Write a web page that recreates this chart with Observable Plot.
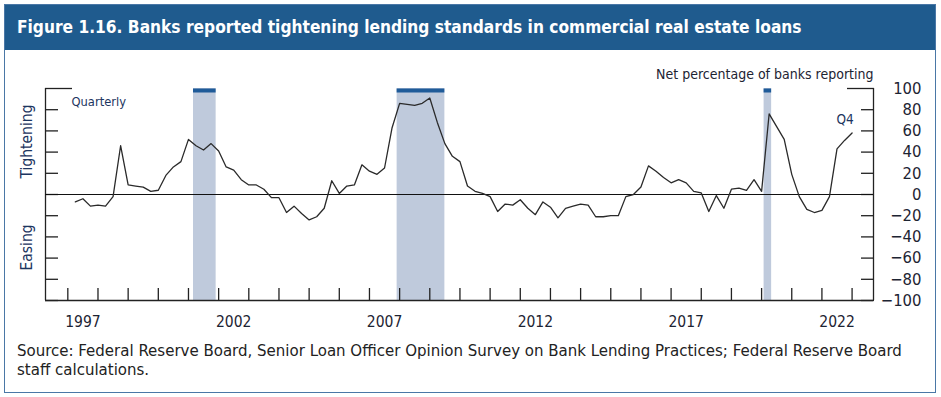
<!DOCTYPE html>
<html><head><meta charset="utf-8">
<script src="https://cdn.jsdelivr.net/npm/d3@7"></script>
<script src="https://cdn.jsdelivr.net/npm/@observablehq/plot@0.6"></script>
<style>
body{margin:0;background:#fff;width:941px;height:397px;position:relative;overflow:hidden;font-family:"Liberation Sans Narrow","DejaVu Sans Condensed","Arial Narrow",sans-serif;}
#frame{position:absolute;left:4px;top:4px;width:932px;height:389px;border:1px solid #4a77a6;box-sizing:border-box;}
#title{position:absolute;left:5px;top:5px;width:930px;height:45px;background:#1f5b8e;color:#fff;font-weight:bold;font-size:17.2px;line-height:45px;padding-left:12px;box-sizing:border-box;white-space:nowrap;}
#chart{position:absolute;left:0;top:51px;}
#caption{position:absolute;left:17px;top:341px;font-size:16.7px;line-height:19px;color:#222;}
</style></head>
<body>
<div id="frame"></div>
<div id="title">Figure 1.16. Banks reported tightening lending standards in commercial real estate loans</div>
<div id="chart"></div>
<div id="caption">Source: Federal Reserve Board, Senior Loan Officer Opinion Survey on Bank Lending Practices; Federal Reserve Board<br>staff calculations.</div>
<script>
// Quarterly net percentage of banks reporting tightening, 1997:Q1 – 2022:Q4
const firstYear = 1997;
const values = [
  -7, -4, -11, -10,   // 1997
  -11, -2, 46, 9,     // 1998
  8, 7, 3, 4,         // 1999
  18, 26, 31, 52,     // 2000
  46, 42, 48, 41,     // 2001
  26, 23, 14, 9,      // 2002
  9, 5, -3, -3,       // 2003
  -17, -11, -18, -24, // 2004
  -21, -13, 13, 1,    // 2005
  8, 9, 28, 22,       // 2006
  19, 25, 63, 86,     // 2007
  85, 84, 86, 91,     // 2008
  68, 48, 36, 31,     // 2009
  8, 3, 1, -2,        // 2010
  -16, -9, -10, -5,   // 2011
  -13, -19, -7, -12,  // 2012
  -22, -13, -11, -9,  // 2013
  -10, -21, -21, -20, // 2014
  -20, -2, 0, 7,      // 2015
  27, 22, 16, 11,     // 2016
  14, 11, 3, 1.5,     // 2017
  -16, -1, -13, 5,    // 2018
  6, 4, 14, 3,        // 2019
  76, 64, 52, 19,     // 2020
  -2, -14, -17, -15,  // 2021
  -2, 43, 51, 58      // 2022
];
// NBER recessions (decimal years)
const recessionStart = [2001.167, 2007.917, 2020.083];
const recessionEnd   = [2001.917, 2009.5, 2020.333];
const xDomain = [1996.26, 2023.71];
const yTicks = [100, 80, 60, 40, 20, 0, -20, -40, -60, -80, -100];
const yearTicks = d3.range(1997, 2024);
const xLabelYears = [1997, 2002, 2007, 2012, 2017, 2022];

const data = values.map((v, i) => ({t: firstYear + (i + 1) / 4, v}));
const recessions = recessionStart.map((s, i) => ({start: s, end: recessionEnd[i]}));
const lastPoint = [data[data.length - 1]];

const ink = "#1d2433";
const annot = "#1c3560";
const font = '"Liberation Sans Narrow","DejaVu Sans Condensed","Arial Narrow",sans-serif';

const chart = Plot.plot({
  width: 941, height: 285,
  marginLeft: 45, marginRight: 68, marginTop: 37, marginBottom: 36,
  x: {domain: xDomain, axis: null, label: null},
  y: {domain: [-100, 100], axis: null, label: null},
  style: {fontFamily: font, fontSize: "15px", color: ink, background: "transparent", overflow: "visible"},
  marks: [
    Plot.rect(recessions, {x1: "start", x2: "end", y1: -100, y2: 100, fill: "#bfcadc"}),
    Plot.ruleY(recessions, {x1: "start", x2: "end", y: 100, stroke: "#1f5b99", strokeWidth: 4, dy: 2}),
    // inward ticks
    Plot.axisX(yearTicks, {anchor: "bottom", label: null, tickSize: 12, dy: -12, fill: "none", stroke: "#222", strokeWidth: 1.3}),
    Plot.axisY(yTicks.filter(d => d !== 100), {anchor: "left", label: null, tickSize: 13, dx: 13, fill: "none", stroke: "#222", strokeWidth: 1.3}),
    Plot.axisY(yTicks.filter(d => d !== 100), {anchor: "right", label: null, tickSize: 13, dx: -13, fill: "none", stroke: "#222", strokeWidth: 1.3}),
    Plot.axisY([100], {anchor: "left", label: null, tickSize: 27, dx: 27, fill: "none", stroke: "#222", strokeWidth: 1.3}),
    Plot.axisY([100], {anchor: "right", label: null, tickSize: 27, dx: -27, fill: "none", stroke: "#222", strokeWidth: 1.3}),
    // labels
    Plot.axisX(xLabelYears.map(y => y + 0.5), {anchor: "bottom", label: null, tickSize: 0, tickPadding: 15, tickFormat: d => String(Math.floor(d)), fontSize: 15.5, fill: ink}),
    Plot.axisY(yTicks, {anchor: "right", label: null, tickSize: 0, tickPadding: 48, textAnchor: "end", tickFormat: d => d < 0 ? "\u2212" + Math.abs(d) : String(d), fontSize: 16.5, fill: ink}),
    // frame lines
    Plot.ruleX([xDomain[0], xDomain[1]], {y1: -100, y2: 100, stroke: "#222", strokeWidth: 1.3}),
    Plot.ruleY([-100], {stroke: "#222", strokeWidth: 1.3}),
    Plot.ruleY([0], {stroke: "#111", strokeWidth: 1.2}),
    Plot.line(data, {x: "t", y: "v", stroke: "#2a2a2a", strokeWidth: 1.3}),
    // annotations
    Plot.text(["Quarterly"], {frameAnchor: "top-left", dx: 26, dy: 8, textAnchor: "start", fontSize: 12.8, fill: annot}),
    Plot.text(["Net percentage of banks reporting"], {frameAnchor: "top-right", dy: -19, textAnchor: "end", fontSize: 14, fill: ink}),
    Plot.text(lastPoint, {x: "t", y: "v", text: () => "Q4", dx: -7, dy: -13, fontSize: 13.5, fill: annot}),
    Plot.text(["Tightening"], {x: xDomain[0], y: 50, rotate: -90, dx: -18, fontSize: 15.5, fill: annot}),
    Plot.text(["Easing"], {x: xDomain[0], y: -50, rotate: -90, dx: -18, fontSize: 15.5, fill: annot})
  ]
});
document.getElementById("chart").appendChild(chart);
</script>
</body></html>
